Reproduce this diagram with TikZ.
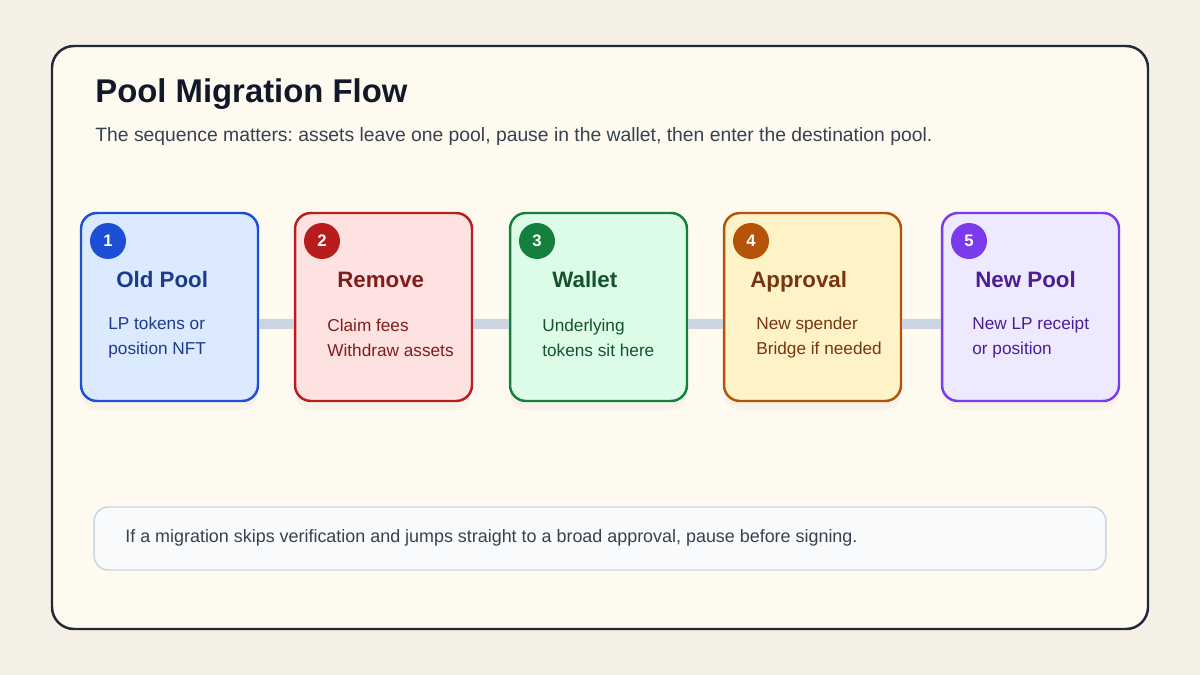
\documentclass[tikz,border=0pt]{standalone}
\usepackage{fontspec}
\setmainfont{Liberation Sans}
\frenchspacing
\usetikzlibrary{positioning,shadows}
\definecolor{Page}{HTML}{F4F0E6}
\definecolor{Paper}{HTML}{FEFAF0}
\definecolor{Ink}{HTML}{1F2937}
\definecolor{Heading}{HTML}{111827}
\definecolor{Muted}{HTML}{374151}
\definecolor{Bar}{HTML}{CBD5E1}
\definecolor{NoteFill}{HTML}{F8FAFC}
\definecolor{BlueLine}{HTML}{1D4ED8}
\definecolor{BlueFill}{HTML}{DBEAFE}
\definecolor{BlueText}{HTML}{1E3A8A}
\definecolor{RedLine}{HTML}{B91C1C}
\definecolor{RedFill}{HTML}{FEE2E2}
\definecolor{RedText}{HTML}{7F1D1D}
\definecolor{GreenLine}{HTML}{15803D}
\definecolor{GreenFill}{HTML}{DCFCE7}
\definecolor{GreenText}{HTML}{14532D}
\definecolor{AmberLine}{HTML}{B45309}
\definecolor{AmberFill}{HTML}{FEF3C7}
\definecolor{AmberText}{HTML}{78350F}
\definecolor{VioletLine}{HTML}{7C3AED}
\definecolor{VioletFill}{HTML}{EDE9FE}
\definecolor{VioletText}{HTML}{4C1D95}
\tikzset{
  panel/.style={draw=Ink,fill=Paper,line width=1.4pt,rounded corners=12.5pt},
  stepbox/.style 2 args={draw=#1,fill=#2,line width=1.4pt,rounded corners=9pt,minimum width=3.54cm,minimum height=3.76cm,
    drop shadow={opacity=0.05,shadow xshift=0pt,shadow yshift=-5pt}},
  badge/.style={circle,fill=#1,text=white,inner sep=0pt,minimum size=0.72cm,font=\bfseries\fontsize{9.5}{11}\selectfont},
  steptitle/.style={anchor=base west,inner sep=0pt,text=#1,font=\bfseries\fontsize{12.7}{15}\selectfont},
  stepnote/.style={anchor=west,inner sep=0pt,align=left,text=#1,font=\fontsize{9.8}{14.2}\selectfont},
  link/.style={draw=Bar,line width=0.2cm},
  notebox/.style={draw=Bar,fill=NoteFill,line width=0.8pt,rounded corners=8pt,minimum width=20.24cm,minimum height=1.26cm}
}
\begin{document}
\begin{tikzpicture}[x=0.02cm,y=-0.02cm]
  \fill[Page] (0,0) rectangle (1200,675);
  \useasboundingbox (0,0) rectangle (1200,675);
  \draw[panel] (52,46) rectangle (1148,629);
  \node[anchor=base west,inner sep=0pt,text=Heading,font=\bfseries\fontsize{18.7}{22}\selectfont] (title) at (95,103) {Pool Migration Flow};
  \node[anchor=base west,inner sep=0pt,text=Muted,font=\fontsize{11}{13}\selectfont] (subtitle) at (95,142) {The sequence matters: assets leave one pool, pause in the wallet, then enter the destination pool.};
  % steps
  \node[stepbox={BlueLine}{BlueFill}] (old) at (169.5,307) {};
  \node[stepbox={RedLine}{RedFill}] (remove) at (383.5,307) {};
  \node[stepbox={GreenLine}{GreenFill}] (wallet) at (598.5,307) {};
  \node[stepbox={AmberLine}{AmberFill}] (approval) at (812.5,307) {};
  \node[stepbox={VioletLine}{VioletFill}] (new) at (1030.5,307) {};
  \draw[link] ([yshift=-0.34cm]old.east) -- ([yshift=-0.34cm]remove.west);
  \draw[link] ([yshift=-0.34cm]remove.east) -- ([yshift=-0.34cm]wallet.west);
  \draw[link] ([yshift=-0.34cm]wallet.east) -- ([yshift=-0.34cm]approval.west);
  \draw[link] ([yshift=-0.34cm]approval.east) -- ([yshift=-0.34cm]new.west);
  \node[badge=BlueLine] (n1) at (108,241) {1};
  \node[badge=RedLine] (n2) at (322,241) {2};
  \node[badge=GreenLine] (n3) at (537,241) {3};
  \node[badge=AmberLine] (n4) at (751,241) {4};
  \node[badge=VioletLine] (n5) at (969,241) {5};
  \node[steptitle=BlueText] (t1) at (116,288) {Old Pool};
  \node[steptitle=RedText] (t2) at (337,288) {Remove};
  \node[steptitle=GreenText] (t3) at (552,288) {Wallet};
  \node[steptitle=AmberText] (t4) at (750,288) {Approval};
  \node[steptitle=VioletText] (t5) at (975,288) {New Pool};
  \node[stepnote=BlueText] (b1) at (108,337.5) {LP tokens or\\position NFT};
  \node[stepnote=RedText] (b2) at (327,337.5) {Claim fees\\Withdraw assets};
  \node[stepnote=GreenText] (b3) at (542,337.5) {Underlying\\tokens sit here};
  \node[stepnote=AmberText] (b4) at (756,337.5) {New spender\\Bridge if needed};
  \node[stepnote=VioletText] (b5) at (972,337.5) {New LP receipt\\or position};
  % warning
  \node[notebox] (note) at (600,538.5) {};
  \node[anchor=west,inner sep=0pt,text=Muted,font=\fontsize{10.2}{12}\selectfont] (notetext) at (125,538) {If a migration skips verification and jumps straight to a broad approval, pause before signing.};
\end{tikzpicture}
\end{document}
